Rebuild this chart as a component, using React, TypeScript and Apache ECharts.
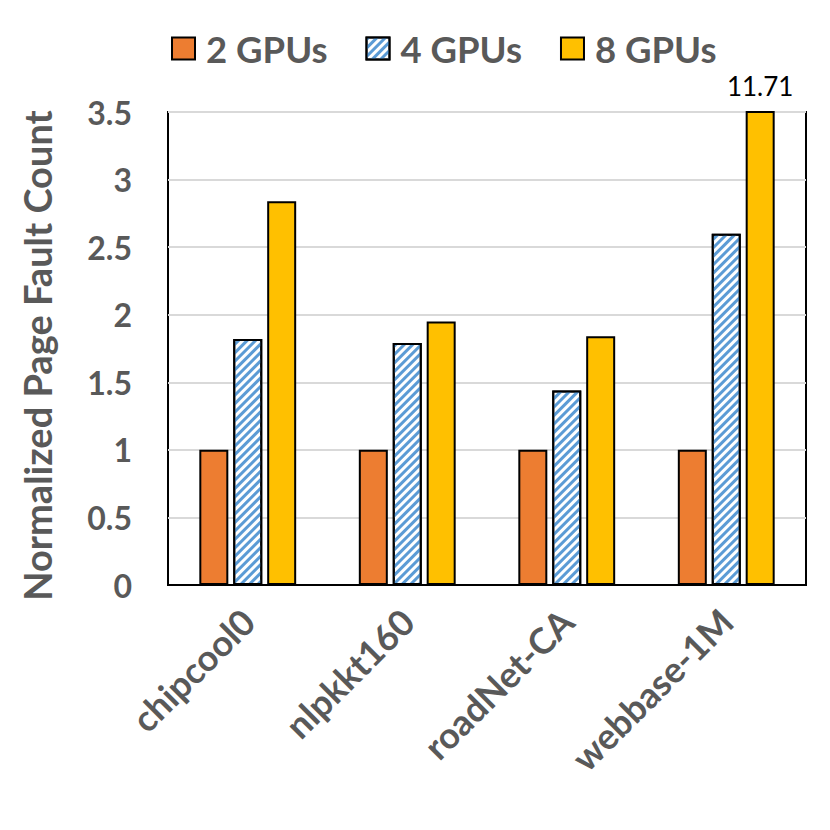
import React, { useEffect, useRef } from "react";
import * as echarts from "echarts";

const categories = ["chipcool0", "nlpkkt160", "roadNet-CA", "webbase-1M"];
const seriesNames = ["2 GPUs", "4 GPUs", "8 GPUs"];
const gpu2 = [1, 1, 1, 1];
const gpu4 = [1.82, 1.79, 1.44, 2.6];
const gpu8 = [2.84, 1.95, 1.84, 11.71];
const yTicks = [0, 0.5, 1, 1.5, 2, 2.5, 3, 3.5];

const FONT = "Lato";
const GRAY = "#595959";

export default function App() {
  const ref = useRef<HTMLDivElement>(null);
  useEffect(() => {
    if (!ref.current) return;
    const chart = echarts.init(ref.current, null, { renderer: "svg" });
    const yMax = yTicks[yTicks.length - 1];
    const barCommon = {
      type: "bar",
      barWidth: 29,
      barGap: "17%",
      clip: true,
    };
    chart.setOption({
      animation: false,
      textStyle: { fontFamily: FONT },
      legend: {
        top: 25,
        left: 166,
        icon: "rect",
        itemWidth: 23,
        itemHeight: 22,
        itemGap: 38,
        itemStyle: { borderColor: "#000", borderWidth: 2 },
        textStyle: {
          fontSize: 36.5,
          fontWeight: "bold",
          color: GRAY,
          fontFamily: FONT,
          padding: [0, 0, 0, 6],
        },
        data: seriesNames,
      },
      grid: {
        left: 168,
        right: 24,
        top: 112,
        bottom: 245,
        show: true,
        borderColor: "#000",
        borderWidth: 2,
        containLabel: false,
      },
      xAxis: {
        type: "category",
        data: categories,
        axisLine: { show: true, lineStyle: { color: "#000", width: 2 } },
        axisTick: { show: false },
        axisLabel: {
          rotate: 45,
          interval: 0,
          margin: 30,
          fontSize: 36,
          fontWeight: "bold",
          color: GRAY,
          fontFamily: FONT,
        },
      },
      yAxis: {
        type: "value",
        min: 0,
        max: yMax,
        interval: 0.5,
        name: "Normalized Page Fault Count",
        nameLocation: "middle",
        nameGap: 112,
        nameTextStyle: {
          fontSize: 38,
          fontWeight: "bold",
          color: GRAY,
          fontFamily: FONT,
          padding: [0, 14, 0, 0],
        },
        axisLine: { show: false },
        axisTick: { show: false },
        splitLine: { lineStyle: { color: "#d9d9d9", width: 2 } },
        axisLabel: {
          margin: 36,
          fontSize: 32,
          fontWeight: "bold",
          color: GRAY,
          fontFamily: FONT,
          formatter: (v: number) => String(v),
        },
      },
      series: [
        {
          ...barCommon,
          name: seriesNames[0],
          data: gpu2,
          itemStyle: { color: "#ED7D31", borderColor: "#000", borderWidth: 2 },
        },
        {
          ...barCommon,
          name: seriesNames[1],
          data: gpu4,
          itemStyle: {
            color: "#ffffff",
            borderColor: "#000",
            borderWidth: 2,
            decal: {
              symbol: "rect",
              symbolSize: 1,
              color: "#5B9BD5",
              dashArrayX: [1, 0],
              dashArrayY: [3, 3],
              rotation: -Math.PI / 4,
            },
          },
        },
        {
          ...barCommon,
          name: seriesNames[2],
          data: gpu8.map((v) => ({
            value: v,
            label: {
              show: v > yMax,
              position: "top",
              distance: 12,
              formatter: () => v.toFixed(2),
              fontSize: 26,
              color: "#000",
              fontFamily: FONT,
            },
          })),
          itemStyle: { color: "#FFC000", borderColor: "#000", borderWidth: 2 },
        },
      ],
    });
    return () => chart.dispose();
  }, []);
  return (
    <div
      ref={ref}
      style={{ position: "fixed", left: 0, top: 0, width: 830, height: 830, background: "#fff" }}
    />
  );
}
